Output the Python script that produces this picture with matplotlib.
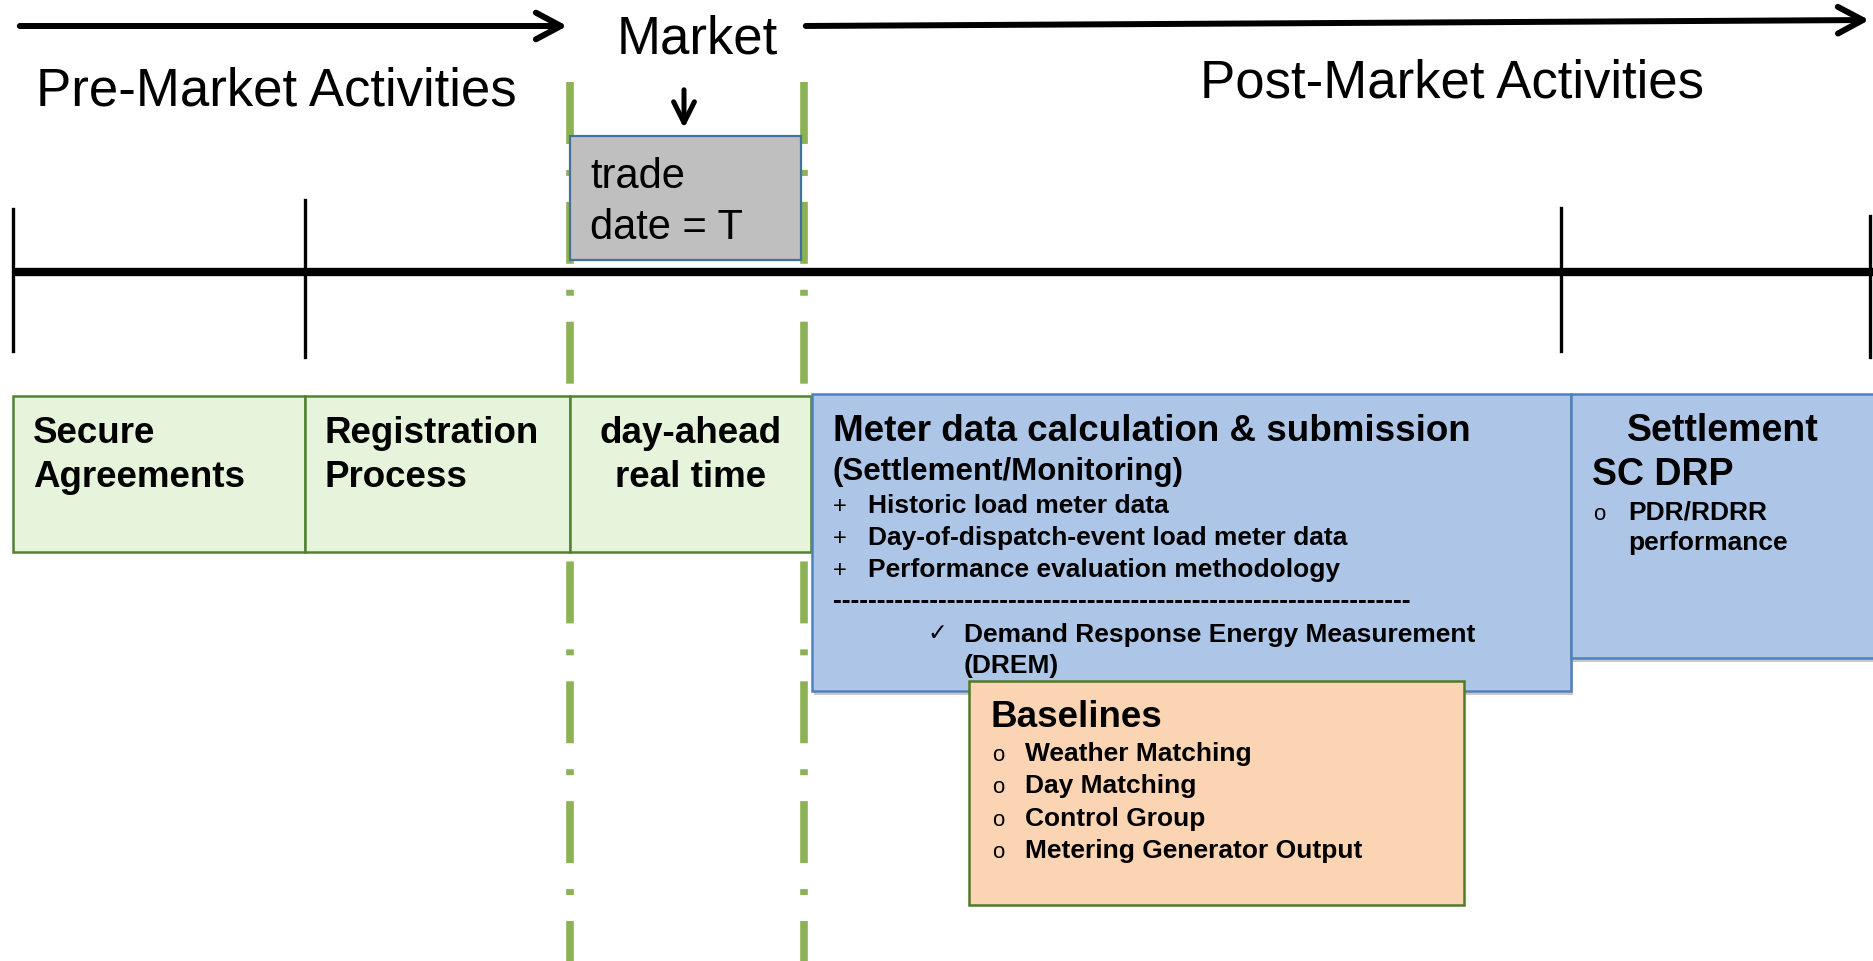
import matplotlib.pyplot as plt
from matplotlib.patches import Rectangle

plt.rcParams['font.family'] = ['Liberation Sans', 'DejaVu Sans']
plt.rcParams['lines.scale_dashes'] = False

# texts of the diagram
phase_labels = ["Pre-Market Activities", "Market", "Post-Market Activities"]
trade_label = "trade\ndate = T"
step_labels = ["Secure\nAgreements", "Registration\nProcess", "day-ahead\nreal time"]
meter_title = "Meter data calculation & submission"
meter_sub = "(Settlement/Monitoring)"
meter_items = ["Historic load meter data",
               "Day-of-dispatch-event load meter data",
               "Performance evaluation methodology"]
drem_label = ["Demand Response Energy Measurement", "(DREM)"]
settle_title = ["Settlement", "SC DRP"]
settle_items = ["PDR/RDRR", "performance"]
base_title = "Baselines"
base_items = ["Weather Matching", "Day Matching", "Control Group",
              "Metering Generator Output"]

W, H = 1873, 962
fig = plt.figure(figsize=(W / 100, H / 100), dpi=100)
ax = fig.add_axes([0, 0, 1, 1])
ax.set_xlim(0, W)
ax.set_ylim(H, 0)
ax.axis("off")

green = "#8db255"
# top arrows
ax.annotate("", xy=(570, 27), xytext=(17, 27),
            arrowprops=dict(arrowstyle="->,head_length=0.6,head_width=0.32",
                            lw=4.3, color="black", mutation_scale=30))
ax.annotate("", xy=(1872, 21), xytext=(803, 27),
            arrowprops=dict(arrowstyle="->,head_length=0.6,head_width=0.32",
                            lw=4.3, color="black", mutation_scale=30))
ax.text(36, 106, phase_labels[0], fontsize=38, va="baseline")
ax.text(697, 54, phase_labels[1], fontsize=38, va="baseline", ha="center")
ax.text(1200, 97, phase_labels[2], fontsize=38, va="baseline")
ax.annotate("", xy=(684, 132), xytext=(684, 88),
            arrowprops=dict(arrowstyle="->,head_length=0.5,head_width=0.25",
                            lw=3.6, color="black", mutation_scale=30))

# green dash-dot market lines
for x in (570, 804):
    ax.plot([x, x], [83, H], color=green, lw=5.5,
            linestyle=(0, (44.6, 18.7, 4.3, 18.7)), solid_capstyle="butt",
            dash_capstyle="butt", zorder=1)

# gray trade box
ax.add_patch(Rectangle((570, 137), 231, 124, facecolor="#bfbfbf",
                       edgecolor="#41719c", lw=1.6, zorder=3))
ax.text(590, 188, "trade", fontsize=30, va="baseline", zorder=4)
ax.text(590, 239, "date = T", fontsize=30, va="baseline", zorder=4)

# timeline
ax.plot([15, W], [273, 273], color="black", lw=6, zorder=2,
        solid_capstyle="butt")
for x, y0, y1 in [(13, 210, 352), (305, 201, 358), (1561, 209, 352),
                  (1870, 217, 358)]:
    ax.plot([x, x], [y0, y1], color="black", lw=2.4, zorder=2)

# green step boxes
edges = [13, 305, 570, 811]
for i, lab in enumerate(step_labels):
    ax.add_patch(Rectangle((edges[i], 397), edges[i + 1] - edges[i], 156,
                           facecolor="#e7f4dc", edgecolor="#538135",
                           lw=1.8, zorder=3))
    l1, l2 = lab.split("\n")
    if i < 2:
        x, ha = edges[i] + 20, "left"
    else:
        x, ha = (edges[i] + edges[i + 1]) / 2, "center"
    ax.text(x, 443, l1, fontsize=26.5, fontweight="bold", ha=ha,
            va="baseline", zorder=4)
    ax.text(x, 487, l2, fontsize=26.5, fontweight="bold", ha=ha,
            va="baseline", zorder=4)

# blue boxes with soft shadow
for (x0, y0, w, h) in [(812, 395, 759, 297), (1571, 395, 310, 264)]:
    ax.add_patch(Rectangle((x0 + 2, y0 + 4), w, h, facecolor="#c8c8c8",
                           edgecolor="none", zorder=4))
    ax.add_patch(Rectangle((x0, y0), w, h, facecolor="#adc6e7",
                           edgecolor="#4f81bd", lw=1.8, zorder=5))

ax.text(833, 441, meter_title, fontsize=26.5, fontweight="bold",
        va="baseline", zorder=7)
ax.text(833, 480, meter_sub, fontsize=22.5, fontweight="bold",
        va="baseline", zorder=7)
for i, item in enumerate(meter_items):
    yb = 513 + i * 32
    ax.text(840, yb, "+", fontsize=17, ha="center", va="baseline", zorder=7)
    ax.text(868, yb, item, fontsize=19, fontweight="bold", va="baseline",
            zorder=7)
ax.text(833, 608, "-" * 66, fontsize=19, fontweight="bold", va="baseline",
        zorder=7)
ax.text(937, 640, "\u2713", fontsize=17, ha="center", va="baseline",
        family=["DejaVu Sans"], zorder=7)
ax.text(964, 642, drem_label[0], fontsize=19, fontweight="bold",
        va="baseline", zorder=7)
ax.text(964, 673, drem_label[1], fontsize=19, fontweight="bold",
        va="baseline", zorder=9)

ax.text(1723, 441, settle_title[0], fontsize=27, fontweight="bold",
        ha="center", va="baseline", zorder=7)
ax.text(1592, 485, settle_title[1], fontsize=27, fontweight="bold",
        va="baseline", zorder=7)
ax.text(1599, 520, "o", fontsize=16, ha="center", va="baseline", zorder=7)
ax.text(1628, 520, settle_items[0], fontsize=19, fontweight="bold",
        va="baseline", zorder=7)
ax.text(1628, 550, settle_items[1], fontsize=19, fontweight="bold",
        va="baseline", zorder=7)

# orange baselines box
ax.add_patch(Rectangle((969, 682), 495, 224, facecolor="#fbd4b4",
                       edgecolor="#4f7a28", lw=1.8, zorder=8))
ax.text(991, 727, base_title, fontsize=26.5, fontweight="bold",
        va="baseline", zorder=9)
for i, item in enumerate(base_items):
    yb = 761 + i * 32.5
    ax.text(998, yb, "o", fontsize=16, ha="center", va="baseline", zorder=9)
    ax.text(1025, yb, item, fontsize=19, fontweight="bold", va="baseline",
            zorder=9)

fig.savefig("out.png", dpi=100)
